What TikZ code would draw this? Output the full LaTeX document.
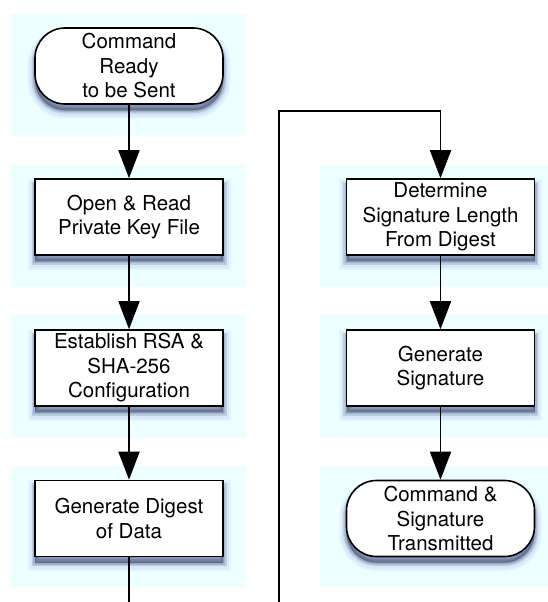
\documentclass[tikz,border=0pt]{standalone}
\usepackage{fontspec}
\setmainfont{TeX Gyre Heros}
\usetikzlibrary{arrows.meta}

\definecolor{panel}{RGB}{238,255,255}
\definecolor{shadeout}{RGB}{90,120,235}
\definecolor{shadein}{RGB}{30,35,65}

\begin{document}
\begin{tikzpicture}[x=1pt,y=-1pt,
  panelbox/.style={fill=panel,draw=none},
  % soft drop shadow built from stacked translucent strokes
  glowout/.style={preaction={draw=shadeout,fill=shadeout,line width=#1,
      draw opacity=0.08,fill opacity=0.08,transform canvas={yshift=-7pt}}},
  glowin/.style={preaction={draw=shadein,fill=shadein,line width=#1,
      draw opacity=0.14,fill opacity=0.14,transform canvas={yshift=-6pt}}},
  softshadow/.style={glowout=15pt,glowout=11pt,glowin=7pt,glowin=4pt,glowin=1pt},
  stepbox/.style={softshadow,draw=black,line width=1.6pt,fill=white,
    minimum width=188pt,minimum height=76pt,inner sep=0pt,align=center,
    font=\fontsize{20.5}{24.5}\selectfont},
  termbox/.style={stepbox,rounded corners=30pt},
  flow/.style={line width=1.8pt,-{Triangle[length=28pt,width=21pt]}},
  plain/.style={line width=1.8pt}]

\useasboundingbox (0,0) rectangle (548,602);

% swimlane-style backdrops behind each step
\fill[panelbox] (11,14)  rectangle (246,136);
\fill[panelbox] (11,165) rectangle (246,287);
\fill[panelbox] (11,315) rectangle (246,438);
\fill[panelbox] (11,466) rectangle (246,587);
\fill[panelbox] (320,165) rectangle (548,287);
\fill[panelbox] (320,315) rectangle (548,438);
\fill[panelbox] (320,466) rectangle (548,587);

% left column
\node[termbox] (ready)  at (129,66)    {Command\\Ready\\to be Sent};
\node[stepbox] (open)   at (129,217)   {Open \& Read\\Private Key File};
\node[stepbox] (config) at (129,368)   {Establish RSA \&\\SHA-256\\Configuration};
\node[stepbox] (digest) at (129,518.5) {Generate Digest\\of Data};

% right column
\node[stepbox] (siglen) at (440.5,217)   {Determine\\Signature Length\\From Digest};
\node[stepbox] (gensig) at (440.5,368)   {Generate\\Signature};
\node[termbox] (sent)   at (440.5,518.5) {Command \&\\Signature\\Transmitted};

% off-page continuation points and the turn of the return line
\coordinate (outA) at (129,602);
\coordinate (inB)  at (279,602);
\coordinate (turn) at (279,111);

% connectors
\draw[flow] (ready)  -- (open);
\draw[flow] (open)   -- (config);
\draw[flow] (config) -- (digest);
\draw[plain] (digest) -- (outA);
\draw[flow] (inB) -- (turn) -| (siglen.north);
\draw[flow] (siglen) -- (gensig);
\draw[flow] (gensig) -- (sent);
\end{tikzpicture}
\end{document}
